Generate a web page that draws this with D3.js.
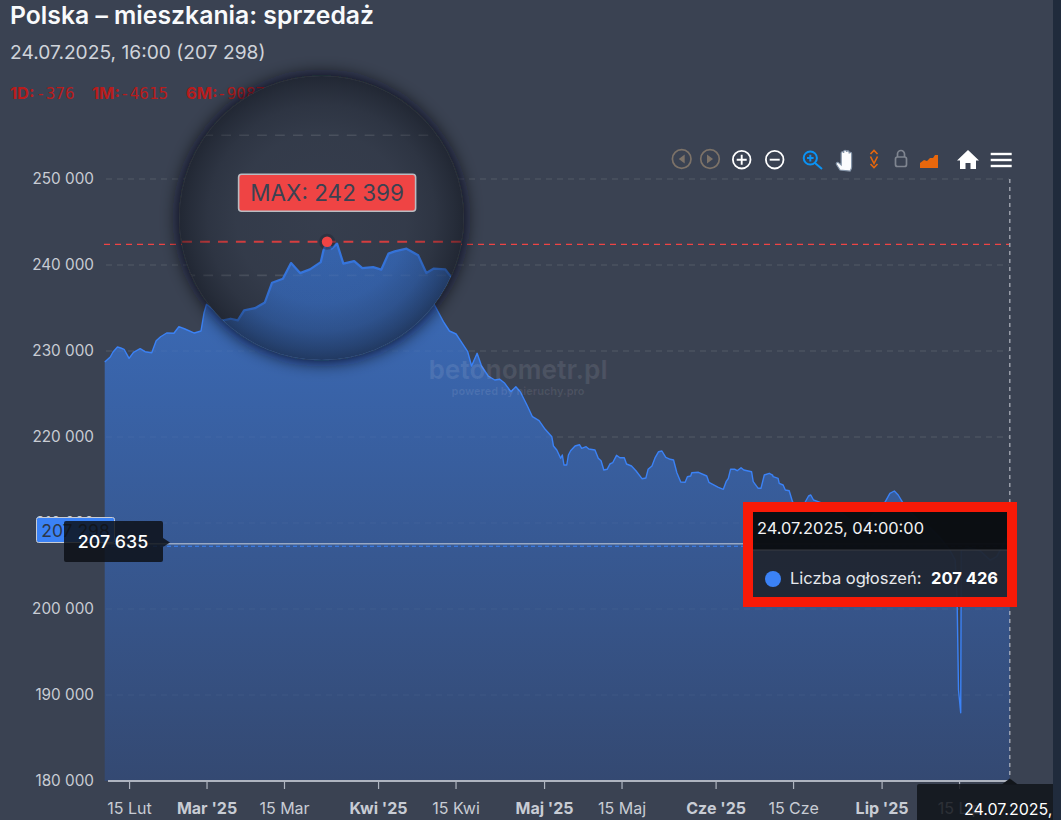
<!DOCTYPE html>
<html><head><meta charset="utf-8">
<script src="https://cdn.jsdelivr.net/npm/d3@7/dist/d3.min.js"></script>
<style>
html,body{margin:0;padding:0;background:#3a4252;overflow:hidden}
svg{display:block}
text{font-family:Inter,"Noto Sans",sans-serif}
</style></head><body>
<svg id="c" width="1061" height="820"></svg>
<script>
// days since 1 March 2025
const dayOffsets = [-18.4,-17.4,-16.9,-16.1,-15.5,-14.9,-14.0,-13.2,-12.0,-11.1,-9.9,-9.1,-8.3,-7.2,-5.9,-5.0,-3.9,-2.2,-1.0,-0.45,0.0,1,3,6,8,
 9.9,10.7,11.5,12.2,13.4,14.5,15.3,16.5,17.4,18.4,19.5,20.7,21.0,21.4,21.9,22.5,23.2,24.4,25.3,26.5,27.4,28.2,28.9,30.2,31.5,32.4,33.2,34.5,35.0,37,39,
 41.1,42.8,43.9,45.1,46.1,47.2,47.9,48.9,49.7,50.9,52.1,53.0,53.9,55.0,55.9,56.7,57.9,58.9,60.1,61.2,62.4,62.7,63.3,64.0,64.3,64.6,65.1,65.4,65.8,66.6,
 67.4,67.8,68.6,69.1,70.2,70.8,71.3,71.8,72.4,72.9,73.4,74.1,74.7,75.5,75.9,76.8,77.6,78.7,79.4,79.8,80.5,81.1,81.7,82.3,83.0,83.8,84.4,85.0,85.7,86.5,86.9,87.5,87.7,88.9,90.4,90.8,92.5,93.4,93.9,94.3,94.7,95.5,95.9,96.6,97.1,98.5,98.8,99.7,100.2,100.8,101.7,102.3,102.4,103.3,103.5,104.2,104.6,105.3,105.9,
 106.8,107.4,108.8,109.2,109.7,110.9,112.0,113.0,114.5,116.3,118.1,119.6,121.0,122.6,123.5,124.3,125.0,125.8,127.1,129.0,130.8,132.6,134.4,135.3,135.65,135.9,136.3,136.4,138.0,139.8,141.6,142.8,143.9,144.6,145.17];
const listingCounts = [228720,229300,229880,230465,230350,230200,229150,229850,230270,229920,229800,231200,231660,232090,232060,232825,232560,232090,232325,234420,235430,234900,234000,235800,236500,
 236786,236907,236786,237500,237664,238071,239479,239764,240879,240164,240429,240950,241786,242399,241907,242264,240836,241021,240521,240593,240407,241550,241714,241907,241429,240164,240479,240429,240000,238600,236800,
 235465,233407,232325,231977,231011,229918,228256,229732,228256,227093,226628,226709,226244,225267,225849,225267,223721,222360,221895,220895,220035,218953,218488,217523,217907,216744,216744,217907,218407,218953,
 219104,218686,218872,218604,218488,217523,217244,216163,216244,216860,217011,217872,217593,217593,216860,216628,216081,215151,215232,216244,216628,217639,218290,218372,217639,217407,217325,215849,214767,214732,215383,215465,215849,215895,215465,214732,214151,213918,214802,215198,216244,216244,216081,216430,216163,215965,214802,214035,214035,215581,215778,215581,215383,215198,214616,214418,213837,213756,212477,
 211512,211512,213139,213256,212674,212407,211512,210930,211279,210349,209883,210349,211279,212407,213453,213721,213256,212407,211279,210116,209418,208255,206778,205697,201045,190581,187942,206860,207093,206778,205697,206082,207442,208255,207426];
const yTickValues = [180000,190000,200000,210000,220000,230000,240000,250000];
const xTickDays = [-14,0,14,31,45,61,75,92,106,122,136];
const xTickLabels = ["15 Lut","Mar '25","15 Mar","Kwi '25","15 Kwi","Maj '25","15 Maj","Cze '25","15 Cze","Lip '25","15 Lip"];
const xTickBold = [false,true,false,true,false,true,false,true,false,true,false];
const maxValue = 242399, maxDay = 21.4;
const lastValue = 207298, crosshairValue = 207635, hoverValue = 207426, hoverDay = 145.17;
const titleText = "Polska – mieszkania: sprzedaż";
const subtitleText = "24.07.2025, 16:00 (207 298)";
const changeNames = ["1D:","1M:","6M:"];
const changeValues = ["-376","-4615","-9087"];

const fmt = v => d3.format(",")(v).replace(/,/g," ");
const svg = d3.select("#c");
const x = d3.scaleLinear().domain([-18.53,145.17]).range([104,1009.8]);
const y = d3.scaleLinear().domain([180000,250000]).range([781,179]);
const pts = dayOffsets.map((d,i)=>({d,v:listingCounts[i]}));

const defs = svg.append("defs");
const grad = defs.append("linearGradient").attr("id","af").attr("gradientUnits","userSpaceOnUse")
  .attr("x1",0).attr("x2",0).attr("y1",240).attr("y2",781);
grad.append("stop").attr("offset",0).attr("stop-color","#3b6dbd");
grad.append("stop").attr("offset",1).attr("stop-color","#344972");
defs.append("filter").attr("id","blur").attr("x","-30%").attr("y","-30%").attr("width","160%").attr("height","160%")
  .append("feGaussianBlur").attr("stdDeviation",9);
defs.append("clipPath").attr("id","lensClip").append("circle").attr("cx",321.5).attr("cy",218).attr("r",142);
defs.append("clipPath").attr("id","pageClip").append("rect").attr("x",0).attr("y",0).attr("width",1053).attr("height",820);
const rg = defs.append("radialGradient").attr("id","vig");
[[0,.08],[.6,.14],[.8,.26],[.93,.42],[1,.52]].forEach(s=>rg.append("stop").attr("offset",s[0]).attr("stop-color","#0b0f18").attr("stop-opacity",s[1]));

const areaGen = d3.area().x(p=>x(p.d)).y0(y(180000)).y1(p=>y(p.v));
const lineGen = d3.line().x(p=>x(p.d)).y(p=>y(p.v));

function plot(g){
  g.append("g").selectAll("line").data(yTickValues.filter(v=>v>180000)).join("line")
    .attr("x1",106).attr("x2",1009).attr("y1",y).attr("y2",y)
    .attr("stroke","#ffffff").attr("stroke-opacity",.09).attr("stroke-width",1).attr("stroke-dasharray","6 5");
  g.append("path").attr("d",areaGen(pts)).attr("fill","url(#af)");
  g.append("g").selectAll("line").data(yTickValues.filter(v=>v>180000)).join("line")
    .attr("x1",106).attr("x2",1009).attr("y1",y).attr("y2",y)
    .attr("stroke","#ffffff").attr("stroke-opacity",.05).attr("stroke-width",1).attr("stroke-dasharray","6 5");
  g.append("path").attr("d",lineGen(pts)).attr("fill","none").attr("stroke","#3b82f6").attr("stroke-width",1.4).attr("stroke-linejoin","round");
  g.append("line").attr("x1",104).attr("x2",1009).attr("y1",y(maxValue)).attr("y2",y(maxValue))
    .attr("stroke","#ef4444").attr("stroke-width",1.3).attr("stroke-dasharray","6 5");
}

// title block
svg.append("text").attr("x",10).attr("y",24).attr("font-size",24.75).attr("font-weight",600).attr("fill","#f8fafc").text(titleText);
svg.append("text").attr("x",10).attr("y",59).attr("font-size",19.2).attr("fill","#cfd3da").text(subtitleText);
[10,92,186].forEach((px,i)=>{
  svg.append("text").attr("x",px).attr("y",99).attr("font-size",16.5).attr("font-weight",700).attr("fill","#b91c1c").text(changeNames[i]);
});
[36,120,217].forEach((px,i)=>{
  svg.append("text").attr("x",px).attr("y",99).attr("style","font-family:'DejaVu Sans Mono',monospace").attr("font-size",16).attr("fill","#b91c1c").text(changeValues[i]);
});

// main plot
plot(svg.append("g"));

// axes
const yAxis = svg.append("g").attr("transform","translate(104,0)")
  .call(d3.axisLeft(y).tickValues(yTickValues).tickSize(0).tickPadding(10).tickFormat(fmt));
yAxis.select(".domain").remove();
yAxis.selectAll("text").attr("font-size",15.3).attr("fill","#c8ccd4").style("font-family","Inter");

const xAxis = svg.append("g").attr("transform",`translate(0,${y(180000)})`)
  .call(d3.axisBottom(x).tickValues(xTickDays).tickSize(8).tickPadding(14).tickFormat((d,i)=>xTickLabels[i]));
xAxis.select(".domain").remove();
xAxis.append("line").attr("x1",108).attr("x2",1009).attr("stroke","#aeb4c0").attr("stroke-width",2);
xAxis.selectAll(".tick line").attr("stroke","#aeb4c0").attr("stroke-width",1.2);
xAxis.selectAll("text").attr("font-size",16).attr("fill","#c8ccd4").style("font-family","Inter")
  .attr("font-weight",(d,i)=>xTickBold[i]?700:400);

// watermark
svg.append("text").attr("x",518).attr("y",379).attr("text-anchor","middle").attr("font-size",26).attr("font-weight",700).attr("fill","#fff").attr("fill-opacity",.09).text("betonometr.pl");
svg.append("text").attr("x",518).attr("y",395).attr("text-anchor","middle").attr("font-size",10.9).attr("font-weight",700).attr("fill","#fff").attr("fill-opacity",.09).text("powered by nieruchy.pro");

// crosshair lines
const hx = x(hoverDay);
svg.append("line").attr("x1",hx).attr("x2",hx).attr("y1",179).attr("y2",781).attr("stroke","#c4c8d0").attr("stroke-opacity",.8).attr("stroke-width",1.3).attr("stroke-dasharray","4 4");
svg.append("line").attr("x1",104).attr("x2",1009).attr("y1",y(lastValue)).attr("y2",y(lastValue)).attr("stroke","#3b82f6").attr("stroke-width",1.2).attr("stroke-dasharray","4 3");
svg.append("line").attr("x1",104).attr("x2",1009).attr("y1",y(crosshairValue)+.5).attr("y2",y(crosshairValue)+.5).attr("stroke","#c8d0dc").attr("stroke-width",1);

// last value label on axis
svg.append("rect").attr("x",36.5).attr("y",517.5).attr("width",78).attr("height",25).attr("rx",2).attr("fill","#3b82f6").attr("stroke","#c8ccd4").attr("stroke-width",1);
svg.append("text").attr("x",75.5).attr("y",536.5).attr("text-anchor","middle").attr("font-size",17.5).attr("fill","#2c3648").text(fmt(lastValue));

// horizontal crosshair tag
svg.append("path").attr("d","M64 523a2 2 0 0 1 2-2h95a2 2 0 0 1 2 2v15l7 4.5-7 4.5v13a2 2 0 0 1-2 2H66a2 2 0 0 1-2-2z").attr("fill","#0c1016").attr("fill-opacity",.84);
svg.append("text").attr("x",113).attr("y",548).attr("text-anchor","middle").attr("font-size",17.8).attr("font-weight",500).attr("fill","#fff").text(fmt(crosshairValue));

// lens
const lensK = 1.63, lcx = 321.5, lcy = 248.5;
const lx = v => lcx+lensK*(v-lcx), ly = v => lcy+lensK*(v-lcy);
svg.append("circle").attr("cx",321.5).attr("cy",218).attr("r",143).attr("fill","#0b0f18").attr("fill-opacity",.95).attr("filter","url(#blur)");
const lens = svg.append("g").attr("clip-path","url(#lensClip)");
lens.append("rect").attr("x",170).attr("y",70).attr("width",300).attr("height",300).attr("fill","#3a4252");
plot(lens.append("g").attr("transform",`translate(${lcx*(1-lensK)},${lcy*(1-lensK)}) scale(${lensK})`));
const mx = lx(x(maxDay)), my = ly(y(maxValue));
lens.append("circle").attr("cx",321.5).attr("cy",218).attr("r",142).attr("fill","url(#vig)");
lens.append("circle").attr("cx",mx).attr("cy",my).attr("r",8).attr("fill","#232936").attr("fill-opacity",.45);
lens.append("circle").attr("cx",mx).attr("cy",my).attr("r",5.3).attr("fill","#ef4444");
lens.append("rect").attr("x",mx-88.5).attr("y",my-67.5).attr("width",177).attr("height",37).attr("rx",3).attr("fill","#ef4444").attr("stroke","#b9bcc2").attr("stroke-width",1.6);
lens.append("text").attr("x",mx).attr("y",my-40.5).attr("text-anchor","middle").attr("font-size",22.5).attr("fill","#3a4252").text("MAX: "+fmt(maxValue));

// toolbar icons
const tb = svg.append("g");
[681.7,710].forEach((cx,i)=>{
  tb.append("circle").attr("cx",cx).attr("cy",159).attr("r",9.3).attr("fill","none").attr("stroke","#7c7268").attr("stroke-width",1.7);
  tb.append("path").attr("d",i==0?`M${cx+3} 154.5v9l-6-4.5z`:`M${cx-3} 154.5v9l6-4.5z`).attr("fill","#7c7268");
});
[741.7,774.7].forEach((cx,i)=>{
  tb.append("circle").attr("cx",cx).attr("cy",159.7).attr("r",8.8).attr("fill","none").attr("stroke","#fff").attr("stroke-width",1.8);
  tb.append("path").attr("d",i==0?`M${cx-5} 159.7h10M${cx} 154.7v10`:`M${cx-5} 159.7h10`).attr("stroke","#fff").attr("stroke-width",1.9);
});
tb.append("circle").attr("cx",810.3).attr("cy",158).attr("r",6.6).attr("fill","none").attr("stroke","#0a93f5").attr("stroke-width",2);
tb.append("path").attr("d","M815 163l7 6M807 158h6.6M810.3 154.8v6.6").attr("stroke","#0a93f5").attr("stroke-width",2);
tb.append("path").attr("d","M840 170l-3.5-5.5c-.8-1.6.8-2.8 2.2-1.6l2.5 2V153c0-1.7 2.5-1.7 2.5 0v-1.5c0-1.7 2.8-1.7 2.8 0v.5c0-1.6 2.6-1.6 2.6 0v1.5c0-1.5 2.5-1.5 2.5 0V167c0 2-1 3-1.5 4z").attr("fill","#fbfcfd").attr("stroke","#8494a8").attr("stroke-width",1.2);
tb.append("path").attr("d","M870.5 154l3.5-3.5 3.5 3.5M870.5 164l3.5 3.5 3.5-3.5M870.5 156.5l3.5 7 3.5-7").attr("fill","none").attr("stroke","#e8670c").attr("stroke-width",1.6);
tb.append("rect").attr("x",895.5).attr("y",157).attr("width",11).attr("height",9.5).attr("rx",2).attr("fill","none").attr("stroke","#7f8590").attr("stroke-width",1.7);
tb.append("path").attr("d","M897.5 157v-3a3.5 3.5 0 0 1 7 0v3").attr("fill","none").attr("stroke","#7f8590").attr("stroke-width",1.7);
tb.append("path").attr("d","M920 168v-5l4-3 3 1 3-3 3 0 2-3 3 0v13z").attr("fill","#e8670c");
tb.append("path").attr("d","M957 160.5l11-10.5 11 10.5h-3V169h-5.5v-6h-5v6H960v-8.5z").attr("fill","#fff");
[154,160,166].forEach(yy=>tb.append("line").attr("x1",990.7).attr("x2",1011.7).attr("y1",yy).attr("y2",yy).attr("stroke","#fff").attr("stroke-width",2.4));

// right strip
svg.append("rect").attr("x",1053).attr("y",0).attr("width",8).attr("height",820).attr("fill","#202b3c");

// bottom crosshair tag
const bt = svg.append("g").attr("clip-path","url(#pageClip)");
bt.append("path").attr("d",`M${hx-8} 784.5l8-6 8 6z`).attr("fill","#12161b");
bt.append("rect").attr("x",917).attr("y",784).attr("width",160).attr("height",40).attr("rx",2).attr("fill","#10141a").attr("fill-opacity",.85);
bt.append("text").attr("x",964).attr("y",815).attr("font-size",16).attr("font-weight",400).attr("fill","#fff").text("24.07.2025, 04:00:00");

// tooltip with red frame
svg.append("rect").attr("x",748).attr("y",507).attr("width",264).attr("height",95).attr("fill","none").attr("stroke","#f81a07").attr("stroke-width",10);
svg.append("rect").attr("x",753).attr("y",550).attr("width",254).attr("height",47).attr("fill","#202632").attr("fill-opacity",.95);
svg.append("rect").attr("x",753).attr("y",512).attr("width",254).attr("height",38).attr("fill","#0a0d11").attr("fill-opacity",.98);
svg.append("line").attr("x1",753).attr("x2",1007).attr("y1",550).attr("y2",550).attr("stroke","#3a3d42").attr("stroke-width",1);
svg.append("text").attr("x",757).attr("y",534).attr("font-size",16.4).attr("fill","#f2f3f5").text("24.07.2025, 04:00:00");
svg.append("circle").attr("cx",773).attr("cy",579).attr("r",8).attr("fill","#3b82f6");
svg.append("text").attr("x",790).attr("y",583.5).attr("font-size",16.5).attr("fill","#e7e9ed").text("Liczba ogłoszeń:");
svg.append("text").attr("x",998).attr("y",583.5).attr("text-anchor","end").attr("font-size",16.5).attr("font-weight",700).attr("fill","#fff").text(fmt(hoverValue));
</script>
</body></html>
